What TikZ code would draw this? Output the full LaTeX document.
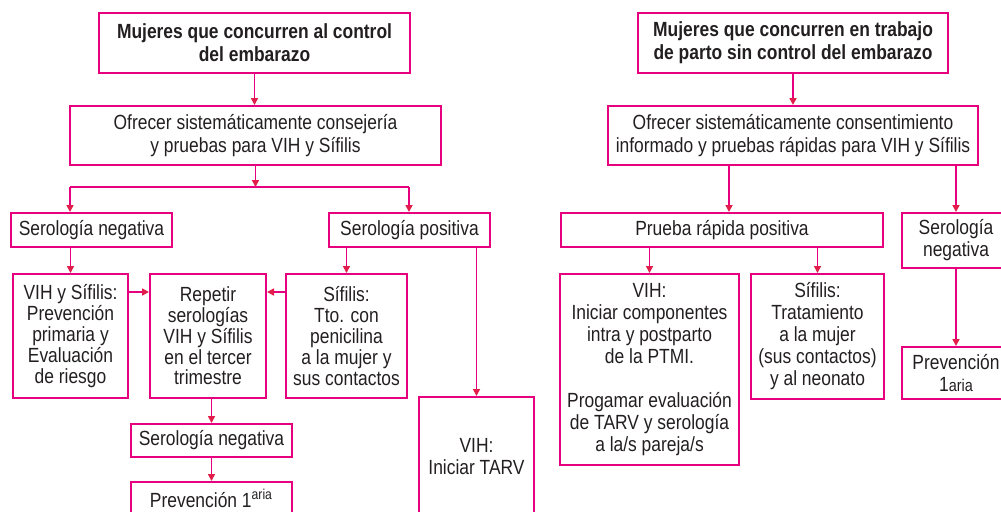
\documentclass[tikz,border=0pt]{standalone}
\usepackage{fontspec}
\setmainfont[FakeStretch=0.85]{Liberation Sans}
\usetikzlibrary{arrows.meta}
\definecolor{rosa}{RGB}{230,0,126}
\definecolor{punta}{RGB}{225,30,75}
\definecolor{texto}{RGB}{35,31,32}
\begin{document}
\begin{tikzpicture}[x=0.5pt,y=-0.5pt,
  caja/.style={draw=rosa,line width=1pt,inner sep=0pt,align=center,text=texto,font=\fontsize{10.25}{11}\selectfont},
  titulo/.style={caja,font=\fontsize{10.25}{11.6}\selectfont\bfseries},
  ancha/.style={caja,font=\fontsize{10.25}{11.6}\selectfont},
  alta/.style={caja,font=\fontsize{10.25}{10.4}\selectfont},
  flecha/.style={draw=rosa,line width=0.8pt,-{Triangle[length=3.5pt,width=3.5pt,color=punta]}},
  linea/.style={draw=rosa,line width=0.8pt}]
  \useasboundingbox (0,0) rectangle (1001,511);
  \clip (0,0) rectangle (1001,511);
  % left tree: control del embarazo
  \node[titulo,minimum width=155.5pt,minimum height=30pt] (t1) at (254.5,43) {Mujeres que concurren al control\\del embarazo};
  \node[ancha,minimum width=185.5pt,minimum height=29.5pt] (o1) at (255.5,135.5) {Ofrecer sistemáticamente consejería\\y pruebas para VIH y Sífilis};
  \node[caja,minimum width=80.5pt,minimum height=17pt] (n1) at (91.5,230) {Serología negativa};
  \node[caja,minimum width=80.5pt,minimum height=17pt] (p1) at (409.5,230) {Serología positiva};
  \node[alta,minimum width=57.5pt,minimum height=62pt] (v1) at (70.5,336) {VIH y Sífilis:\\Prevención\\primaria y\\Evaluación\\de riesgo};
  \node[alta,minimum width=58pt,minimum height=62pt] (r1) at (208,336) {Repetir\\serologías\\VIH y Sífilis\\en el tercer\\trimestre};
  \node[alta,minimum width=60.5pt,minimum height=62pt] (s1) at (346.5,336) {Sífilis:\\Tto. con\\penicilina\\a la mujer y\\sus contactos};
  \node[caja,minimum width=57.5pt,minimum height=60pt] (t2) at (476.5,457) {VIH:\\Iniciar TARV};
  \node[caja,minimum width=80.5pt,minimum height=16.5pt] (n2) at (211.5,440.5) {Serología negativa};
  \node[caja,minimum width=80.5pt,minimum height=16.5pt] (q1) at (211.5,498.5) {Prevención 1\textsuperscript{aria}};
  % right tree: trabajo de parto
  \node[titulo,minimum width=155pt,minimum height=30pt] (t3) at (793,43) {Mujeres que concurren en trabajo\\de parto sin control del embarazo};
  \node[ancha,minimum width=185pt,minimum height=29.5pt] (o2) at (793,135.5) {Ofrecer sistemáticamente consentimiento\\informado y pruebas rápidas para VIH y Sífilis};
  \node[caja,minimum width=161pt,minimum height=17pt] (pr) at (722,230) {Prueba rápida positiva};
  \node[caja,minimum width=54pt,minimum height=27.5pt] (n3) at (956,240.5) {Serología\\negativa};
  \node[caja,minimum width=54pt,minimum height=26pt] (q2) at (956,373) {Prevención\\1{\fontsize{8.5}{10}\selectfont aria}};
  \node[caja,minimum width=89.5pt,minimum height=95.5pt] (vh) at (649.5,369.5) {VIH:\\Iniciar componentes\\intra y postparto\\de la PTMI.\\[11pt]Progamar evaluación\\de TARV y serología\\a la/s pareja/s};
  \node[caja,minimum width=66.5pt,minimum height=62.5pt] (sf) at (817.5,336.5) {Sífilis:\\Tratamiento\\a la mujer\\(sus contactos)\\y al neonato};
  \coordinate (bl) at (70,187);
  \coordinate (br) at (409,187);
  \draw[flecha] (t1) -- (t1 |- o1.north);
  \draw[flecha] (o1.south) -- (o1.south |- bl);
  \draw[linea] (bl) -- (br);
  \draw[flecha] (bl) -- (bl |- n1.north);
  \draw[flecha] (br) -- (br |- p1.north);
  \draw[flecha] (v1 |- n1.south) -- (v1.north);
  \draw[flecha] (s1 |- p1.south) -- (s1.north);
  \draw[flecha] (t2 |- p1.south) -- (t2.north);
  \draw[flecha] ([yshift=22pt]v1.east) -- ([yshift=22pt]v1.east -| r1.west);
  \draw[flecha] ([yshift=22pt]s1.west) -- ([yshift=22pt]s1.west -| r1.east);
  \draw[flecha] (n2 |- r1.south) -- (n2.north);
  \draw[flecha] (n2) -- (q1);
  \draw[flecha] (t3) -- (o2);
  \draw[flecha] ([xshift=-32pt]o2.south) -- ([xshift=-32pt]o2.south |- pr.north);
  \draw[flecha] (n3 |- o2.south) -- (n3.north);
  \draw[flecha] (vh |- pr.south) -- (vh.north);
  \draw[flecha] (sf |- pr.south) -- (sf.north);
  \draw[flecha] (n3) -- (q2);
\end{tikzpicture}
\end{document}
